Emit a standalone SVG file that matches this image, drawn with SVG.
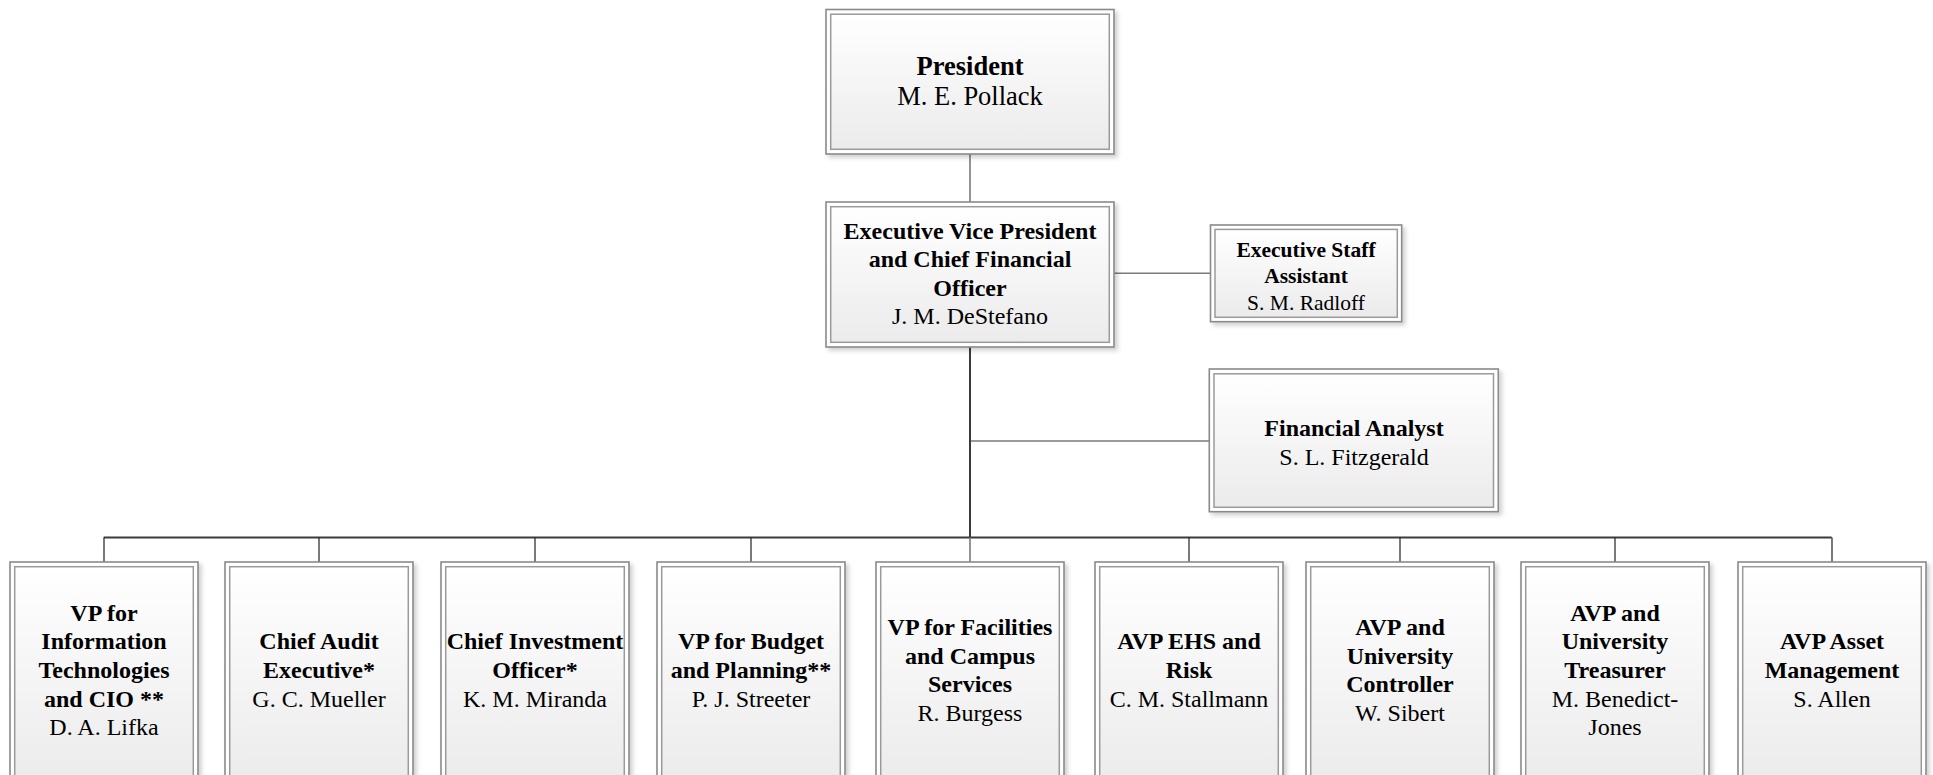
<svg xmlns="http://www.w3.org/2000/svg" width="1933" height="775" viewBox="0 0 1933 775">
<style>
.o{fill:#fff;stroke:#8a8a8a;stroke-width:1.6;filter:url(#sh)}
.i{fill:url(#g);stroke:#9a9a9a;stroke-width:1.5}
.t{font-family:"Liberation Serif","Times New Roman",serif;font-size:24px;text-anchor:middle;fill:#000}
.b{font-weight:bold}
.c{fill:none;stroke:#7a7a7a;stroke-width:1.6}
.k{fill:none;stroke:#3a3a3a;stroke-width:2}
.d{fill:none;stroke:#222;stroke-width:1.2}
</style>
<defs>
<linearGradient id="g" x1="0" y1="0" x2="0" y2="1">
<stop offset="0" stop-color="#ffffff"/>
<stop offset="1" stop-color="#ebebeb"/>
</linearGradient>
<filter id="sh" x="-5%" y="-5%" width="115%" height="115%">
<feDropShadow dx="3" dy="3" stdDeviation="2" flood-color="#000" flood-opacity="0.18"/>
</filter>
</defs>
<rect width="1933" height="775" fill="#fff"/>
<g id="connectors">
<path class="c" d="M970 154V202"/>
<path class="c" d="M1114 273.3H1210"/>
<path class="c" d="M970 441H1209"/>
<path class="k" d="M970 347V537.5"/>
<path class="k" d="M103.7 537.5H1831.7"/>
<path class="d" d="M104 537.5V562M319 537.5V562M535 537.5V562M751 537.5V562M1189 537.5V562M1400 537.5V562M1615 537.5V562M1832 537.5V562"/>
<path class="c" d="M970 537.5V562"/>
</g>
<g id="president">
<rect class="o" x="826" y="9.5" width="288" height="144.5"/>
<rect class="i" x="830.7" y="14.2" width="278.6" height="135.1"/>
<text class="t" style="font-size:26.5px"><tspan class="b" x="970" y="75">President</tspan><tspan x="970" y="105.3">M. E. Pollack</tspan></text>
</g>
<g id="evp">
<rect class="o" x="826" y="202" width="288" height="145"/>
<rect class="i" x="830.7" y="206.7" width="278.6" height="135.6"/>
<text class="t"><tspan class="b" x="970" y="238.5">Executive Vice President</tspan><tspan class="b" x="970" y="267.2">and Chief Financial</tspan><tspan class="b" x="970" y="295.8">Officer</tspan><tspan x="970" y="324.4">J. M. DeStefano</tspan></text>
</g>
<g id="esa">
<rect class="o" x="1210.5" y="225" width="191.2" height="96.7"/>
<rect class="i" x="1215" y="229.4" width="182.3" height="87.9"/>
<text class="t" style="font-size:21.5px"><tspan class="b" x="1306" y="256.7">Executive Staff</tspan><tspan class="b" x="1306" y="283.3">Assistant</tspan><tspan x="1306" y="310">S. M. Radloff</tspan></text>
</g>
<g id="fa">
<rect class="o" x="1209.3" y="369" width="289" height="142.7"/>
<rect class="i" x="1214" y="373.8" width="279.5" height="133.5"/>
<text class="t"><tspan class="b" x="1354" y="436">Financial Analyst</tspan><tspan x="1354" y="465">S. L. Fitzgerald</tspan></text>
</g>
<g id="vp-it">
<rect class="o" x="10" y="562" width="188" height="225"/>
<rect class="i" x="14.7" y="566.7" width="178.6" height="215.6"/>
<text class="t"><tspan class="b" x="104" y="620.8">VP for</tspan><tspan class="b" x="104" y="649.4">Information</tspan><tspan class="b" x="104" y="678">Technologies</tspan><tspan class="b" x="104" y="706.6">and CIO **</tspan><tspan x="104" y="735.2">D. A. Lifka</tspan></text>
</g>
<g id="audit">
<rect class="o" x="225" y="562" width="188" height="225"/>
<rect class="i" x="229.7" y="566.7" width="178.6" height="215.6"/>
<text class="t"><tspan class="b" x="319" y="649.4">Chief Audit</tspan><tspan class="b" x="319" y="678">Executive*</tspan><tspan x="319" y="706.6">G. C. Mueller</tspan></text>
</g>
<g id="investment">
<rect class="o" x="441" y="562" width="188" height="225"/>
<rect class="i" x="445.7" y="566.7" width="178.6" height="215.6"/>
<text class="t"><tspan class="b" x="535" y="649.4">Chief Investment</tspan><tspan class="b" x="535" y="678">Officer*</tspan><tspan x="535" y="706.6">K. M. Miranda</tspan></text>
</g>
<g id="budget">
<rect class="o" x="657" y="562" width="188" height="225"/>
<rect class="i" x="661.7" y="566.7" width="178.6" height="215.6"/>
<text class="t"><tspan class="b" x="751" y="649.4">VP for Budget</tspan><tspan class="b" x="751" y="678">and Planning**</tspan><tspan x="751" y="706.6">P. J. Streeter</tspan></text>
</g>
<g id="facilities">
<rect class="o" x="876" y="562" width="188" height="225"/>
<rect class="i" x="880.7" y="566.7" width="178.6" height="215.6"/>
<text class="t"><tspan class="b" x="970" y="635.1">VP for Facilities</tspan><tspan class="b" x="970" y="663.7">and Campus</tspan><tspan class="b" x="970" y="692.3">Services</tspan><tspan x="970" y="720.9">R. Burgess</tspan></text>
</g>
<g id="ehs">
<rect class="o" x="1095" y="562" width="188" height="225"/>
<rect class="i" x="1099.7" y="566.7" width="178.6" height="215.6"/>
<text class="t"><tspan class="b" x="1189" y="649.4">AVP EHS and</tspan><tspan class="b" x="1189" y="678">Risk</tspan><tspan x="1189" y="706.6">C. M. Stallmann</tspan></text>
</g>
<g id="controller">
<rect class="o" x="1306" y="562" width="188" height="225"/>
<rect class="i" x="1310.7" y="566.7" width="178.6" height="215.6"/>
<text class="t"><tspan class="b" x="1400" y="635.1">AVP and</tspan><tspan class="b" x="1400" y="663.7">University</tspan><tspan class="b" x="1400" y="692.3">Controller</tspan><tspan x="1400" y="720.9">W. Sibert</tspan></text>
</g>
<g id="treasurer">
<rect class="o" x="1521" y="562" width="188" height="225"/>
<rect class="i" x="1525.7" y="566.7" width="178.6" height="215.6"/>
<text class="t"><tspan class="b" x="1615" y="620.8">AVP and</tspan><tspan class="b" x="1615" y="649.4">University</tspan><tspan class="b" x="1615" y="678">Treasurer</tspan><tspan x="1615" y="706.6">M. Benedict-</tspan><tspan x="1615" y="735.2">Jones</tspan></text>
</g>
<g id="asset">
<rect class="o" x="1738" y="562" width="188" height="225"/>
<rect class="i" x="1742.7" y="566.7" width="178.6" height="215.6"/>
<text class="t"><tspan class="b" x="1832" y="649.4">AVP Asset</tspan><tspan class="b" x="1832" y="678">Management</tspan><tspan x="1832" y="706.6">S. Allen</tspan></text>
</g>
</svg>
